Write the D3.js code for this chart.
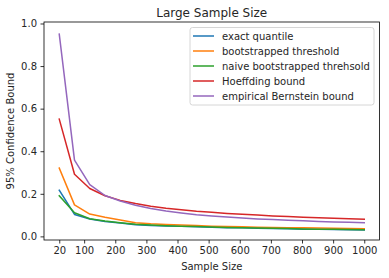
<!DOCTYPE html>
<html><head><meta charset="utf-8">
<script src="https://cdn.jsdelivr.net/npm/d3@7"></script>
<style>body{margin:0;background:#fff}svg{display:block;font-family:"DejaVu Sans",sans-serif}</style>
</head><body><div id="chart"></div>
<script>
const sampleSizes = [20,69,118,167,216,265,314,363,412,461,510,559,608,657,706,755,804,853,902,951,1000];
const exactQuantile = [0.217,0.103,0.082,0.070,0.063,0.055,0.051,0.049,0.047,0.045,0.043,0.041,0.040,0.038,0.037,0.036,0.034,0.033,0.032,0.031,0.030];
const bootstrapped = [0.321,0.148,0.105,0.090,0.077,0.064,0.059,0.056,0.053,0.051,0.048,0.046,0.045,0.043,0.042,0.041,0.040,0.039,0.038,0.037,0.036];
const naiveBootstrapped = [0.191,0.111,0.083,0.072,0.064,0.057,0.053,0.050,0.048,0.046,0.044,0.042,0.041,0.039,0.038,0.037,0.035,0.034,0.033,0.032,0.031];
const hoeffding = [0.551,0.292,0.225,0.191,0.169,0.154,0.142,0.132,0.125,0.118,0.113,0.108,0.104,0.100,0.096,0.093,0.090,0.088,0.085,0.083,0.081];
const bernstein = [0.950,0.358,0.243,0.192,0.166,0.146,0.131,0.119,0.110,0.102,0.096,0.091,0.086,0.082,0.079,0.076,0.073,0.070,0.068,0.066,0.064];
const seriesNames = ["exact quantile","bootstrapped threshold","naive bootstrapped threhsold","Hoeffding bound","empirical Bernstein bound"];
const seriesColors = ["#1f77b4","#ff7f0e","#2ca02c","#d62728","#9467bd"];
const xTicks = [20,100,200,300,400,500,600,700,800,900,1000];
const yTicks = [0.0,0.2,0.4,0.6,0.8,1.0];

const W=389,H=278, L=44, R=379.5, T=22, B=240;
const svg=d3.select("#chart").append("svg").attr("width",W).attr("height",H);
const x=d3.scaleLinear().domain([-29,1049]).range([L,R]);
const y=d3.scaleLinear().domain([-0.017,1.007]).range([B,T]);
const txt="#262626";

const allSeries=[exactQuantile,bootstrapped,naiveBootstrapped,hoeffding,bernstein];
const line=d3.line().x((d,i)=>x(sampleSizes[i])).y(d=>y(d));
allSeries.forEach((s,k)=>{
  svg.append("path").datum(s).attr("d",line).attr("fill","none")
    .attr("stroke",seriesColors[k]).attr("stroke-width",1.5).attr("stroke-linejoin","round").attr("stroke-linecap","square");
});

const xa=svg.append("g").attr("transform",`translate(0,${B})`)
  .call(d3.axisBottom(x).tickValues(xTicks).tickSize(3.5).tickPadding(3.5).tickFormat(d3.format("d")));
const ya=svg.append("g").attr("transform",`translate(${L},0)`)
  .call(d3.axisLeft(y).tickValues(yTicks).tickSize(3.5).tickPadding(3.5).tickFormat(d3.format(".1f")));
[xa,ya].forEach(a=>{a.select(".domain").remove();a.selectAll("line").attr("stroke","#000").attr("stroke-width",0.8);
  a.selectAll("text").attr("fill",txt).style("font-size","10px").style("font-family","DejaVu Sans");});

svg.append("rect").attr("x",L).attr("y",T).attr("width",R-L).attr("height",B-T)
  .attr("fill","none").attr("stroke","#000").attr("stroke-width",0.8);

svg.append("text").attr("x",(L+R)/2).attr("y",17).attr("text-anchor","middle")
  .attr("fill",txt).style("font-size","12px").text("Large Sample Size");
svg.append("text").attr("x",(L+R)/2).attr("y",270).attr("text-anchor","middle")
  .attr("fill",txt).style("font-size","10px").text("Sample Size");
svg.append("text").attr("transform",`translate(13.5,${(T+B)/2}) rotate(-90)`).attr("text-anchor","middle")
  .attr("fill",txt).style("font-size","10px").text("95% Confidence Bound");

const lg=svg.append("g");
lg.append("rect").attr("x",190).attr("y",27.5).attr("width",184).attr("height",77.5).attr("rx",2.5)
  .attr("fill","#fff").attr("fill-opacity",0.8).attr("stroke","#ccc").attr("stroke-width",0.8);
seriesNames.forEach((n,k)=>{
  const yy=36+k*15;
  lg.append("line").attr("x1",193).attr("x2",214).attr("y1",yy).attr("y2",yy)
    .attr("stroke",seriesColors[k]).attr("stroke-width",1.5);
  lg.append("text").attr("x",222).attr("y",yy+3.5).attr("fill",txt).style("font-size","10px").text(n);
});
</script></body></html>
